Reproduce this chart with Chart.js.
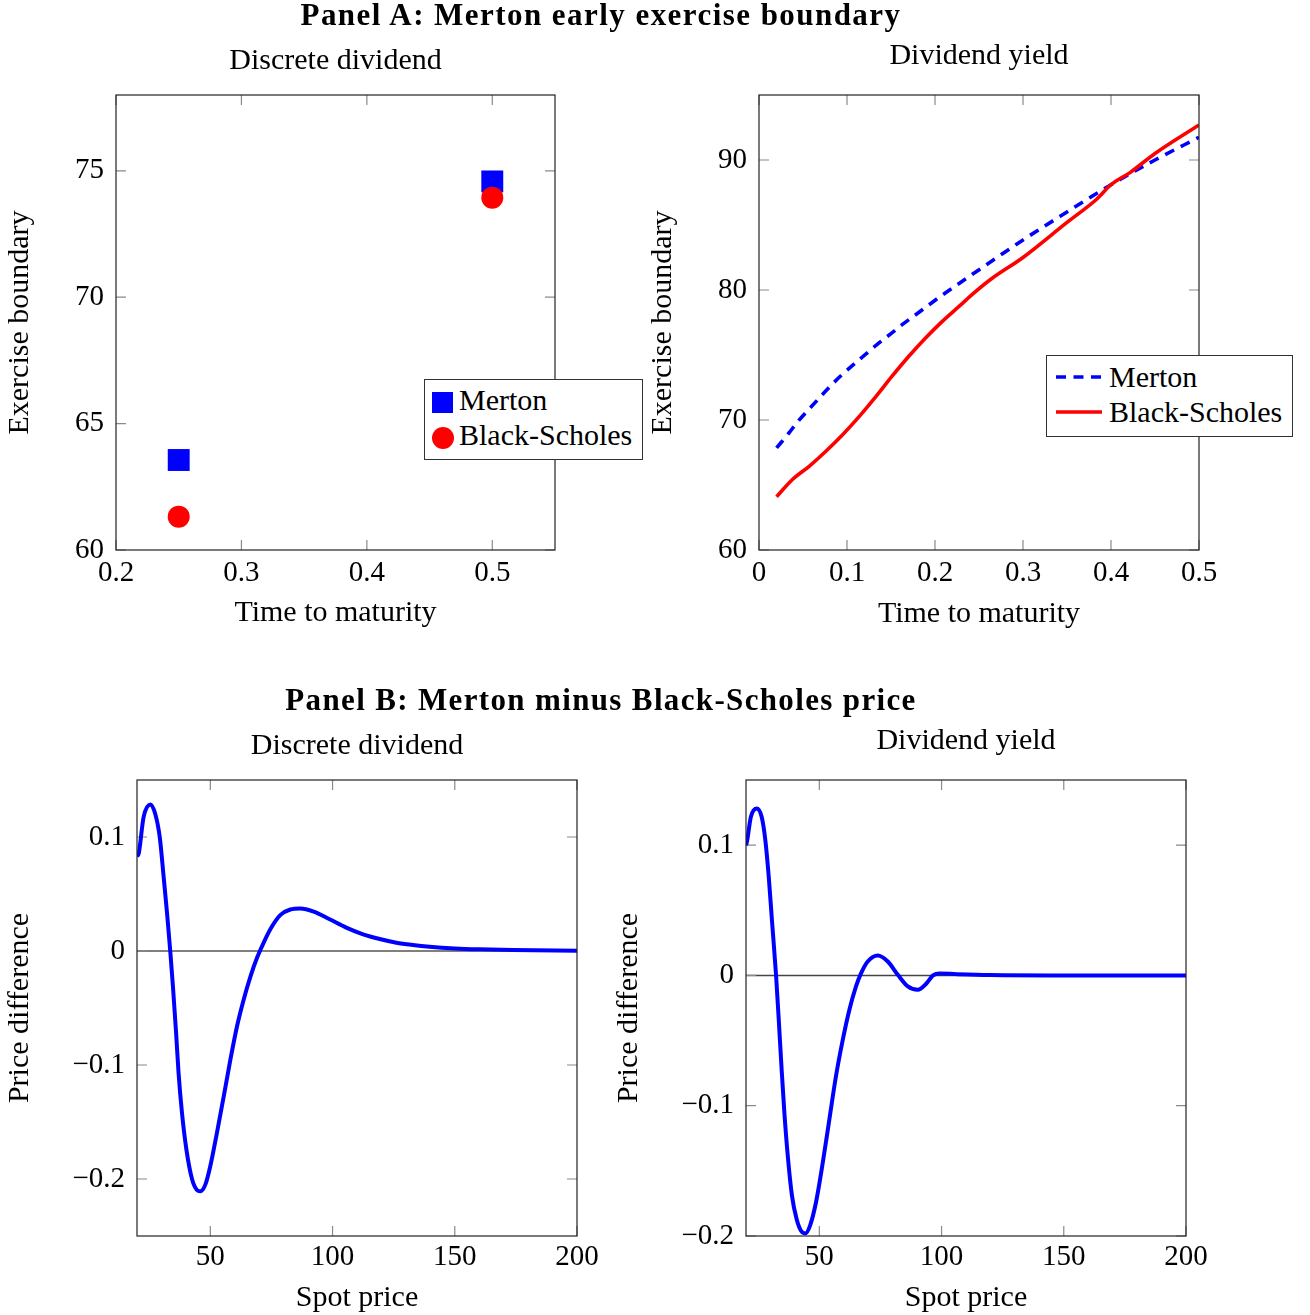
<!DOCTYPE html>
<html>
<head>
<meta charset="utf-8">
<script src="https://cdn.jsdelivr.net/npm/chart.js@4.4.1/dist/chart.umd.min.js"></script>
<style>
  body { margin: 0; background: #fff; }
  #page { position: relative; width: 1310px; height: 1315px; overflow: hidden;
          font-family: 'Liberation Serif', 'Times New Roman', serif; color: #000; }
  canvas { position: absolute; }
  .title { position: absolute; font-size: 30px; line-height: 30px; white-space: nowrap; transform: translateX(-50%); }
  .panel { font-weight: bold; font-size: 31px; line-height: 31px; letter-spacing: 1.45px; }
  .legend { position: absolute; border: 1px solid #333; background: #fff; box-sizing: border-box; }
  .legend span { position: absolute; font-size: 30px; line-height: 30px; white-space: nowrap; }
  .legend svg { position: absolute; left: 0; top: 0; }
</style>
</head>
<body>
<div id="page">
  <canvas id="chartA1" width="655" height="640" style="left:0px;top:0px"></canvas>
  <canvas id="chartA2" width="670" height="640" style="left:640px;top:0px"></canvas>
  <canvas id="chartB1" width="620" height="635" style="left:0px;top:680px"></canvas>
  <canvas id="chartB2" width="710" height="635" style="left:600px;top:680px"></canvas>

  <div class="title panel" style="left:601px;top:-1px">Panel A: Merton early exercise boundary</div>
  <div class="title" style="left:335.5px;top:44px">Discrete dividend</div>
  <div class="title" style="left:979px;top:39px">Dividend yield</div>
  <div class="title panel" style="left:601px;top:684px;letter-spacing:1.35px">Panel B: Merton minus Black-Scholes price</div>
  <div class="title" style="left:357px;top:729px">Discrete dividend</div>
  <div class="title" style="left:966px;top:724px">Dividend yield</div>

  <!-- legend, discrete dividend -->
  <div class="legend" style="left:424px;top:379px;width:219px;height:81px">
    <svg width="219" height="81">
      <rect x="7" y="12" width="21" height="21" fill="rgb(0,0,255)"></rect>
      <circle cx="18" cy="58" r="11" fill="rgb(255,0,0)"></circle>
    </svg>
    <span style="left:34px;top:5px">Merton</span>
    <span style="left:34px;top:40px">Black-Scholes</span>
  </div>

  <!-- legend, dividend yield -->
  <div class="legend" style="left:1046px;top:355px;width:247px;height:82px">
    <svg width="247" height="82">
      <line x1="9" y1="21" x2="55" y2="21" stroke="rgb(0,0,255)" stroke-width="3.6" stroke-dasharray="10 7.5"></line>
      <line x1="9" y1="56" x2="55" y2="56" stroke="rgb(255,0,0)" stroke-width="3.6"></line>
    </svg>
    <span style="left:62px;top:6px">Merton</span>
    <span style="left:62px;top:41px">Black-Scholes</span>
  </div>
</div>

<script>
// Panel A, discrete dividend: exercise boundary at two maturities
const discreteT = [0.25, 0.5];
const discreteMerton = [63.56, 74.58];
const discreteBS = [61.32, 73.94];

// Panel A, dividend yield: exercise boundary curves
const yieldMertonT = [0.02, 0.034, 0.045, 0.057, 0.07, 0.081, 0.093, 0.108, 0.121, 0.134, 0.15, 0.163, 0.176,
                      0.191, 0.206, 0.221, 0.237, 0.252, 0.265, 0.3, 0.35, 0.4, 0.45, 0.5];
const yieldMerton = [67.85, 69.0, 69.95, 70.85, 71.8, 72.6, 73.4, 74.3, 75.05, 75.8, 76.65, 77.35, 78.0,
                     78.75, 79.5, 80.2, 80.95, 81.65, 82.25, 83.85, 86.0, 88.1, 90.0, 91.75];
const yieldBST = [0.02, 0.038, 0.057, 0.076, 0.095, 0.114, 0.133, 0.151, 0.17, 0.189, 0.208, 0.227, 0.246,
                  0.265, 0.3, 0.35, 0.384, 0.4, 0.422, 0.45, 0.5];
const yieldBS = [64.1, 65.42, 66.44, 67.6, 68.87, 70.28, 71.82, 73.35, 74.88, 76.29, 77.57, 78.72, 79.87,
                 80.9, 82.5, 85.2, 87.0, 88.1, 89.05, 90.5, 92.7];

// Panel B, discrete dividend: Merton minus Black-Scholes price
const spotDiscrete = [20, 20.7, 22.7, 25.5, 27.5, 29.3, 30.9, 32.3, 33.6, 34.7, 36, 37, 38.4, 40.2, 42.5, 44.5,
                      45.9, 48, 50, 52.7, 55.5, 58.2, 60.9, 63.6, 66.4, 69.1, 72.5, 75.2, 78.6, 82.7,
                      86.8, 92.3, 98.8, 105.6, 112.5, 119.3, 126.1, 132.9, 139.7, 150, 160, 173.8, 200];
const diffDiscrete = [0.083, 0.0854, 0.1175, 0.1286, 0.12, 0.1, 0.065, 0.033, 0, -0.031, -0.072, -0.107, -0.142,
                      -0.174, -0.2, -0.2096, -0.2108, -0.2047, -0.1886, -0.1595, -0.1274, -0.0953, -0.0662,
                      -0.0429, -0.0224, -0.006, 0.0105, 0.0215, 0.0315, 0.0364, 0.0373, 0.0345, 0.0278,
                      0.0205, 0.0146, 0.0105, 0.0073, 0.0053, 0.0038, 0.0023, 0.0015, 0.0009, 0.0003];

// Panel B, dividend yield
const spotYield = [20, 20.4, 22, 24.4, 26.4, 27.9, 29.3, 30.6, 32.3, 33.4, 34.5, 35.7, 37.1, 38.8, 40.7, 42.5,
                   44.3, 46.2, 48.6, 51.4, 54.1, 56.8, 59.6, 62.3, 65, 67.1, 69.8, 73.9, 78, 82.1, 86.2, 90.3,
                   93.7, 96.5, 99.2, 106.1, 119.7, 150, 200];
const diffYield = [0.1, 0.1027, 0.1218, 0.1282, 0.1218, 0.104, 0.0759, 0.0427, 0, -0.034, -0.0697, -0.1055,
                   -0.1387, -0.169, -0.187, -0.196, -0.198, -0.192, -0.1745, -0.1438, -0.1106, -0.0774, -0.0493,
                   -0.0263, -0.0084, 0.0018, 0.0107, 0.0153, 0.0107, 0.0005, -0.0084, -0.011, -0.0064, 0,
                   0.0015, 0.001, 0.0003, 0, 0];

// tick values
const ticksA1x = [0.2, 0.3, 0.4, 0.5];
const ticksA1y = [60, 65, 70, 75];
const ticksA2x = [0, 0.1, 0.2, 0.3, 0.4, 0.5];
const ticksA2y = [60, 70, 80, 90];
const ticksBx = [50, 100, 150, 200];
const ticksB1y = [-0.2, -0.1, 0, 0.1];
const ticksB2y = [-0.2, -0.1, 0, 0.1];

const BLUE = 'rgb(0, 0, 255)';
const RED = 'rgb(255, 0, 0)';

Chart.defaults.font.family = "'Liberation Serif', 'Times New Roman', serif";
Chart.defaults.color = '#000';
Chart.defaults.animation = false;

function toPoints(xs, ys) {
    return xs.map((x, i) => ({ x: x, y: ys[i] }));
}

function minusFmt(v) {
    return v < 0 ? '\u2212' + Math.abs(v) : String(v);
}

// pgfplots-like frame: box, inward ticks on all sides, optional zero line
const framePlugin = {
    id: 'frame',
    beforeDatasetsDraw(chart, args, opts) {
        const { ctx, chartArea: a, scales } = chart;
        ctx.save();
        if (opts.zeroLine) {
            const y0 = scales.y.getPixelForValue(0);
            ctx.strokeStyle = opts.zeroColor;
            ctx.lineWidth = opts.zeroWidth;
            ctx.beginPath();
            ctx.moveTo(a.left, y0);
            ctx.lineTo(a.right, y0);
            ctx.stroke();
        }
        const len = 10;
        ctx.strokeStyle = '#8a8a8a';
        ctx.lineWidth = 1.2;
        ctx.beginPath();
        scales.x.ticks.forEach(t => {
            const x = scales.x.getPixelForValue(t.value);
            ctx.moveTo(x, a.top); ctx.lineTo(x, a.top + len);
            ctx.moveTo(x, a.bottom); ctx.lineTo(x, a.bottom - len);
        });
        scales.y.ticks.forEach(t => {
            const y = scales.y.getPixelForValue(t.value);
            ctx.moveTo(a.left, y); ctx.lineTo(a.left + len, y);
            ctx.moveTo(a.right, y); ctx.lineTo(a.right - len, y);
        });
        ctx.stroke();
        ctx.restore();
    },
    afterDatasetsDraw(chart) {
        const { ctx, chartArea: a } = chart;
        ctx.save();
        ctx.strokeStyle = '#222';
        ctx.lineWidth = 1.2;
        ctx.strokeRect(a.left, a.top, a.right - a.left, a.bottom - a.top);
        ctx.restore();
    }
};

function axis(o) {
    return {
        type: 'linear',
        min: o.min,
        max: o.max,
        grid: { display: false, drawTicks: false },
        border: { display: false },
        ticks: {
            font: { size: 29, lineHeight: 1 },
            padding: o.tickPad,
            maxRotation: 0,
            autoSkip: false,
            callback: minusFmt
        },
        title: {
            display: true,
            text: o.title,
            font: { size: 30, lineHeight: 1 },
            padding: o.titlePad
        },
        afterBuildTicks: s => { s.ticks = o.ticks.map(v => ({ value: v })); },
        afterFit: s => {
            if (o.width) s.width = o.width;
            if (o.height) s.height = o.height;
        }
    };
}

function makeChart(id, type, padding, datasets, xAxis, yAxis, frame) {
    const ctx = document.getElementById(id).getContext('2d');
    return new Chart(ctx, {
        type: type,
        data: { datasets: datasets },
        options: {
            responsive: false,
            devicePixelRatio: 1,
            layout: { padding: padding },
            plugins: {
                legend: { display: false },
                tooltip: { enabled: false },
                frame: frame
            },
            scales: { x: xAxis, y: yAxis }
        },
        plugins: [framePlugin]
    });
}

// Panel A, discrete dividend
makeChart('chartA1', 'scatter', { top: 95, right: 100, left: 0, bottom: 0 }, [
    {
        label: 'Merton',
        data: toPoints(discreteT, discreteMerton),
        pointStyle: 'rect',
        pointRadius: 15.5,
        backgroundColor: BLUE,
        borderWidth: 0,
        order: 1
    },
    {
        label: 'Black-Scholes',
        data: toPoints(discreteT, discreteBS),
        pointStyle: 'circle',
        pointRadius: 11,
        backgroundColor: RED,
        borderWidth: 0,
        order: 0
    }
],
axis({ min: 0.2, max: 0.55, ticks: ticksA1x, title: 'Time to maturity', tickPad: 9, titlePad: 12, height: 90 }),
axis({ min: 60, max: 78, ticks: ticksA1y, title: 'Exercise boundary', tickPad: 12, titlePad: 5, width: 116 }),
{ zeroLine: false });

// Panel A, dividend yield
makeChart('chartA2', 'line', { top: 95, right: 111, left: 0, bottom: 0 }, [
    {
        label: 'Merton',
        data: toPoints(yieldMertonT, yieldMerton),
        borderColor: BLUE,
        borderWidth: 3.6,
        borderDash: [10, 7.5],
        pointRadius: 0,
        cubicInterpolationMode: 'monotone',
        fill: false,
        order: 1
    },
    {
        label: 'Black-Scholes',
        data: toPoints(yieldBST, yieldBS),
        borderColor: RED,
        borderWidth: 3.6,
        pointRadius: 0,
        cubicInterpolationMode: 'monotone',
        fill: false,
        order: 0
    }
],
axis({ min: 0, max: 0.5, ticks: ticksA2x, title: 'Time to maturity', tickPad: 9, titlePad: 11, height: 90 }),
axis({ min: 60, max: 95, ticks: ticksA2y, title: 'Exercise boundary', tickPad: 12, titlePad: 8.5, width: 119 }),
{ zeroLine: false });

// Panel B, discrete dividend
makeChart('chartB1', 'line', { top: 100, right: 43, left: 0, bottom: 0 }, [
    {
        label: 'Merton minus Black-Scholes',
        data: toPoints(spotDiscrete, diffDiscrete),
        borderColor: BLUE,
        borderWidth: 4,
        pointRadius: 0,
        cubicInterpolationMode: 'monotone',
        fill: false
    }
],
axis({ min: 20, max: 200, ticks: ticksBx, title: 'Spot price', tickPad: 7, titlePad: 2, height: 79 }),
axis({ min: -0.25, max: 0.15, ticks: ticksB1y, title: 'Price difference', tickPad: 12, titlePad: 5, width: 137 }),
{ zeroLine: true, zeroColor: '#000', zeroWidth: 1.2 });

// Panel B, dividend yield
makeChart('chartB2', 'line', { top: 100, right: 124, left: 0, bottom: 0 }, [
    {
        label: 'Merton minus Black-Scholes',
        data: toPoints(spotYield, diffYield),
        borderColor: BLUE,
        borderWidth: 4,
        pointRadius: 0,
        cubicInterpolationMode: 'monotone',
        fill: false
    }
],
axis({ min: 20, max: 200, ticks: ticksBx, title: 'Spot price', tickPad: 7, titlePad: 2, height: 79 }),
axis({ min: -0.2, max: 0.15, ticks: ticksB2y, title: 'Price difference', tickPad: 12, titlePad: 14, width: 146 }),
{ zeroLine: true, zeroColor: '#444', zeroWidth: 1.6 });
</script>
</body>
</html>
